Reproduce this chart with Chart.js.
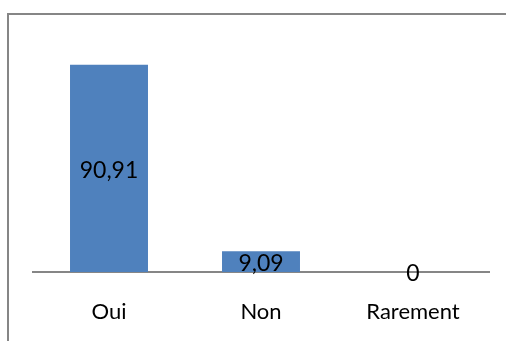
<!DOCTYPE html>
<html>
<head>
<meta charset="utf-8">
<script src="https://cdn.jsdelivr.net/npm/chart.js@4.4.1/dist/chart.umd.min.js"></script>
<style>
  html,body{margin:0;padding:0;background:#fff;}
  #chart{display:block;}
</style>
</head>
<body>
<canvas id="chart" width="506" height="341"></canvas>
<script>
const categories=['Oui','Non','Rarement'];
const values=[90.91,9.09,0];
const yMax=100;

// frame lines along the top and left edges
const framePlugin={
  id:'frame',
  beforeDraw(chart){
    const c=chart.ctx;
    c.save();
    c.fillStyle='#868686';
    c.fillRect(7,13,chart.width-7,2);
    c.fillRect(7,13,2,chart.height-13);
    c.restore();
  }
};

// value written in the middle of each bar, French decimal comma
const valueLabels={
  id:'valueLabels',
  afterDatasetsDraw(chart){
    const c=chart.ctx;
    const meta=chart.getDatasetMeta(0);
    c.save();
    c.font='23px Lato';
    c.fillStyle='#000';
    c.textAlign='center';
    c.textBaseline='middle';
    meta.data.forEach((bar,i)=>{
      const txt=String(values[i]).replace('.',',');
      c.fillText(txt,bar.x,(bar.y+bar.base)/2+2);
    });
    c.restore();
  }
};

new Chart(document.getElementById('chart'),{
  type:'bar',
  data:{labels:categories,datasets:[{data:values,backgroundColor:'#4F81BD',categoryPercentage:1,barPercentage:0.513}]},
  options:{
    responsive:false,
    animation:false,
    layout:{padding:{left:33,right:17,top:44,bottom:0}},
    plugins:{legend:{display:false},tooltip:{enabled:false}},
    scales:{
      x:{
        grid:{display:false,drawTicks:false},
        border:{display:true,color:'#868686',width:2},
        ticks:{color:'#000',font:{family:'Lato',size:22},padding:27},
        afterFit(s){ s.height=69; }
      },
      y:{display:false,min:0,max:yMax}
    }
  },
  plugins:[framePlugin,valueLabels]
});
</script>
</body>
</html>
